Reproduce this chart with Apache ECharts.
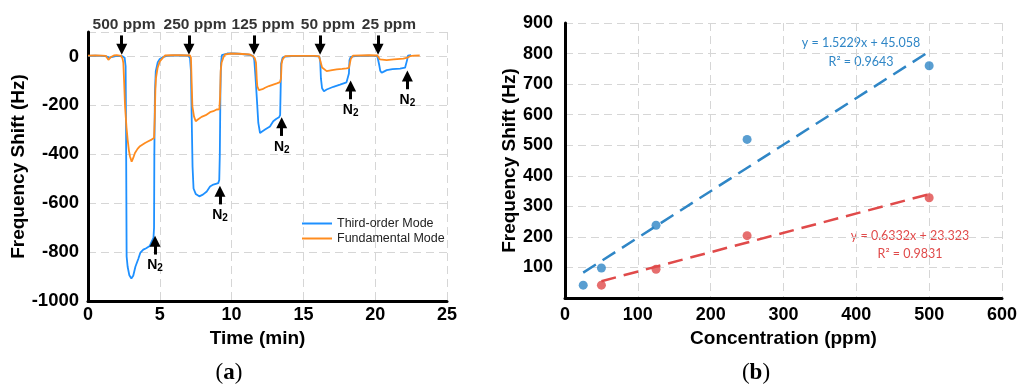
<!DOCTYPE html>
<html>
<head>
<meta charset="utf-8">
<script src="https://cdn.jsdelivr.net/npm/echarts@6/dist/echarts.min.js"></script>
<style>html,body{margin:0;padding:0;background:#fff}#c{width:1023px;height:385px}</style>
</head>
<body>
<div id="c"></div>
<script>
// ---------- Panel (a): time response ----------
const thirdOrder = [
 [0,2],[0.5,3],[1.0,2],[1.3,0],[1.4,-8],[1.5,-5],[1.6,0],[2.0,2],[2.4,1],[2.55,-5],[2.62,-40],[2.65,-300],[2.69,-818],[2.76,-860],[2.88,-895],[3.02,-908],[3.15,-897],[3.3,-860],[3.5,-828],[3.65,-802],[3.85,-790],[4.05,-784],[4.3,-775],[4.45,-755],[4.56,-742],[4.6,-700],[4.62,-400],[4.66,-150],[4.72,-60],[4.85,-25],[5.0,-10],[5.2,-3],[5.5,2],[6.0,4],[6.5,4],[6.95,3],[7.1,-5],[7.17,-60],[7.22,-250],[7.28,-450],[7.35,-540],[7.5,-562],[7.75,-572],[8.0,-565],[8.27,-552],[8.5,-532],[8.73,-524],[9.07,-518],[9.14,-505],[9.18,-400],[9.22,-150],[9.26,-30],[9.32,5],[9.45,10],[9.7,12],[10.2,12],[10.7,10],[11.2,7],[11.5,2],[11.58,-15],[11.66,-80],[11.75,-165],[11.86,-272],[11.98,-313],[12.15,-306],[12.33,-299],[12.67,-286],[12.9,-265],[13.1,-256],[13.3,-249],[13.38,-240],[13.41,-150],[13.45,-30],[13.55,-5],[13.7,-1],[14.2,1],[15.0,1],[15.7,1],[16.1,0],[16.17,-20],[16.22,-90],[16.3,-130],[16.43,-142],[16.62,-135],[17.09,-124],[17.55,-115],[18.0,-106],[18.13,-101],[18.17,-70],[18.21,-15],[18.3,-2],[18.6,1],[19.5,3],[20.15,1],[20.22,-5],[20.28,-35],[20.35,-58],[20.45,-67],[20.6,-62],[20.8,-56],[21.2,-52],[21.73,-50],[22.08,-46],[22.18,-38],[22.22,-15],[22.28,3],[22.4,8],[22.5,5]
];
const fundamental = [
 [0,3],[0.5,4],[1.0,3],[1.25,2],[1.35,-5],[1.42,-14],[1.5,-10],[1.6,-2],[1.8,4],[2.0,5],[2.3,2],[2.4,-8],[2.46,-26],[2.52,-110],[2.58,-204],[2.68,-290],[2.76,-340],[2.85,-385],[2.92,-408],[3.04,-430],[3.15,-415],[3.27,-395],[3.45,-378],[3.62,-367],[3.97,-354],[4.2,-347],[4.43,-340],[4.6,-333],[4.65,-250],[4.69,-140],[4.73,-90],[4.85,-46],[5.0,-20],[5.1,-12],[5.36,4],[5.8,5],[6.5,5],[7.1,4],[7.17,-5],[7.22,-110],[7.27,-204],[7.38,-245],[7.5,-265],[7.65,-258],[7.91,-247],[8.2,-240],[8.5,-228],[8.73,-224],[8.96,-217],[9.15,-216],[9.2,-160],[9.24,-60],[9.3,-26],[9.42,-5],[9.54,8],[9.9,12],[10.5,11],[11.28,8],[11.5,1],[11.62,-8],[11.7,-26],[11.75,-90],[11.79,-122],[11.9,-138],[11.98,-142],[12.15,-134],[12.33,-128],[12.6,-121],[12.9,-115],[13.15,-110],[13.37,-105],[13.44,-90],[13.48,-30],[13.55,-12],[13.72,1],[14.2,2],[15.0,2],[15.8,2],[16.1,0],[16.18,-19],[16.3,-45],[16.39,-53],[16.62,-60],[17.0,-56],[17.32,-53],[17.7,-51],[18.0,-49],[18.17,-47],[18.23,-30],[18.3,-10],[18.36,-5],[18.45,3],[19.0,4],[19.6,5],[20.15,4],[20.22,0],[20.33,-12],[20.8,-15],[21.3,-12],[21.96,-9],[22.24,-5],[22.42,1],[22.7,3],[23.1,4]
];
const seriesNames = ['Third-order Mode', 'Fundamental Mode'];
const xTicksA = [0, 5, 10, 15, 20, 25];
const yTicksA = [-1000, -800, -600, -400, -200, 0];
// gas-on annotations: [time, label, label time]
const ppmArrows = [[2.35,'500 ppm',2.51],[7.03,'250 ppm',7.45],[11.56,'125 ppm',12.19],[16.16,'50 ppm',16.71],[20.2,'25 ppm',20.96]];
// N2 purge annotations: [time, arrow tip value]
const n2Arrows = [[4.67,-736],[9.19,-531],[13.49,-251],[18.29,-101],[22.24,-60]];

// ---------- Panel (b): calibration ----------
const concThird = [25, 50, 125, 250, 500];
const shiftThird = [42, 98, 238, 519, 760];
const concFund = [50, 125, 250, 500];
const shiftFund = [42, 94, 204, 328];
const trendThird = [[25, 83.1], [500, 806.5]];
const trendFund = [[50, 55.0], [500, 339.9]];
const eqThird = ['y = 1.5229x + 45.058', 'R² = 0.9643'];
const eqFund = ['y = 0.6332x + 23.323', 'R² = 0.9831'];

const BLUE = '#1E90FF', ORANGE = '#FF8C1F';
const DBLUE = '#2F86C6', RED = '#E04A4A';
const FONT = '"Liberation Sans", Arial, sans-serif';
const gridLine = {show:true, lineStyle:{color:'#d6d6d6', type:[8,5], width:1}};
const axisLine = {show:true, onZero:false, lineStyle:{color:'#000', width:3}};
const tickLab = {color:'#000', fontFamily:FONT, fontWeight:'bold', fontSize:18, formatter:v => String(v)};

const chart = echarts.init(document.getElementById('c'), null, {renderer:'canvas'});
chart.setOption({
  animation:false,
  backgroundColor:'#fff',
  grid:[
    {left:88, top:32, width:359, height:269},
    {left:565, top:23, width:437, height:275}
  ],
  legend:{
    data:seriesNames, orient:'vertical', left:296, top:212, itemGap:2,
    itemWidth:30, itemHeight:12, itemStyle:{opacity:0},
    textStyle:{fontFamily:FONT, fontSize:12.5, color:'#222'}
  },
  xAxis:[
    {type:'value', gridIndex:0, min:xTicksA[0], max:xTicksA[xTicksA.length-1], interval:5,
     axisLine:axisLine, axisTick:{show:false}, splitLine:gridLine,
     axisLabel:Object.assign({}, tickLab, {margin:5}),
     name:'Time (min)', nameLocation:'middle', nameGap:27,
     nameTextStyle:{fontFamily:FONT, fontWeight:'bold', fontSize:19, color:'#000', padding:[0,20,0,0]}},
    {type:'value', gridIndex:1, min:0, max:600, interval:100,
     axisLine:axisLine, axisTick:{show:false}, splitLine:gridLine,
     axisLabel:Object.assign({}, tickLab, {margin:8}),
     name:'Concentration (ppm)', nameLocation:'middle', nameGap:23,
     nameTextStyle:{fontFamily:FONT, fontWeight:'bold', fontSize:19, color:'#000'}}
  ],
  yAxis:[
    {type:'value', gridIndex:0, min:yTicksA[0], max:100, interval:200,
     axisLine:axisLine, axisTick:{show:false}, splitLine:gridLine,
     axisLabel:Object.assign({}, tickLab, {margin:9, showMaxLabel:false, fontSize:18.5}),
     name:'Frequency Shift (Hz)', nameLocation:'middle', nameGap:56,
     nameTextStyle:{fontFamily:FONT, fontWeight:'bold', fontSize:19, color:'#000'}},
    {type:'value', gridIndex:1, min:0, max:900, interval:100,
     axisLine:axisLine, axisTick:{show:false}, splitLine:gridLine,
     axisLabel:Object.assign({}, tickLab, {margin:12, showMinLabel:false}),
     name:'Frequency Shift (Hz)', nameLocation:'middle', nameGap:45,
     nameTextStyle:{fontFamily:FONT, fontWeight:'bold', fontSize:19, color:'#000'}}
  ],
  series:[
    {name:seriesNames[0], type:'line', xAxisIndex:0, yAxisIndex:0, data:thirdOrder,
     symbol:'none', lineStyle:{color:BLUE, width:1.8}, itemStyle:{color:BLUE}},
    {name:seriesNames[1], type:'line', xAxisIndex:0, yAxisIndex:0, data:fundamental,
     symbol:'none', lineStyle:{color:ORANGE, width:1.8}, itemStyle:{color:ORANGE}},
    // ppm arrows + labels
    {name:'ppm', type:'scatter', xAxisIndex:0, yAxisIndex:0, clip:false, silent:true,
     symbolSize:0,
     data:ppmArrows.map(a => ({value:[a[2], 131], name:a[1]})),
     label:{show:true, position:'inside', formatter:p => p.name, color:'#000',
            fontFamily:FONT, fontWeight:'bold', fontSize:15.5},
     markLine:{silent:true, symbol:['none','triangle'], symbolSize:[11,11], animation:false,
       lineStyle:{color:'#000', width:3, type:'solid'}, label:{show:false},
       data:ppmArrows.map(a => [{coord:[a[0], 86]}, {coord:[a[0], 29]}])}
    },
    // N2 arrows
    {name:'n2', type:'scatter', xAxisIndex:0, yAxisIndex:0, clip:false, silent:true,
     symbolSize:0, data:[],
     markLine:{silent:true, symbol:['none','triangle'], symbolSize:[11,11], animation:false,
       lineStyle:{color:'#000', width:3, type:'solid'},
       label:{show:true, position:'start', distance:3, formatter:'{n|N}{s|2}',
              rich:{n:{fontFamily:FONT, fontWeight:'bold', fontSize:14, color:'#000'},
                    s:{fontFamily:FONT, fontWeight:'bold', fontSize:10, color:'#000', padding:[6,0,0,0]}}},
       data:n2Arrows.map(a => [{coord:[a[0], a[1]-74]}, {coord:[a[0], a[1]-20]}])}
    },
    // Panel b
    {name:'trendThird', type:'line', xAxisIndex:1, yAxisIndex:1, data:trendThird, symbol:'none',
     lineStyle:{color:DBLUE, width:2.5, type:[15,8]}},
    {name:'trendFund', type:'line', xAxisIndex:1, yAxisIndex:1, data:trendFund, symbol:'none',
     lineStyle:{color:RED, width:2.5, type:[15,8]}},
    {name:'ptsThird', type:'scatter', xAxisIndex:1, yAxisIndex:1,
     data:concThird.map((c,i) => [c, shiftThird[i]]), symbolSize:9, itemStyle:{color:DBLUE}},
    {name:'ptsFund', type:'scatter', xAxisIndex:1, yAxisIndex:1,
     data:concFund.map((c,i) => [c, shiftFund[i]]), symbolSize:9, itemStyle:{color:RED}}
  ],
  graphic:[
    {type:'text', x:861, y:43, style:{text:eqThird[0], font:'12.5px Lato, "Open Sans", sans-serif', fill:DBLUE, align:'center', verticalAlign:'middle'}},
    {type:'text', x:861, y:62, style:{text:eqThird[1], font:'12.5px Lato, "Open Sans", sans-serif', fill:DBLUE, align:'center', verticalAlign:'middle'}},
    {type:'text', x:910, y:236, style:{text:eqFund[0], font:'12.5px Lato, "Open Sans", sans-serif', fill:RED, align:'center', verticalAlign:'middle'}},
    {type:'text', x:910, y:254, style:{text:eqFund[1], font:'12.5px Lato, "Open Sans", sans-serif', fill:RED, align:'center', verticalAlign:'middle'}},
    {type:'text', x:229, y:373, style:{text:'{p|(}{b|a}{p|)}', align:'center', verticalAlign:'middle',
      rich:{p:{fontFamily:'"Liberation Serif", serif', fontSize:23, fill:'#000'}, b:{fontFamily:'"Liberation Serif", serif', fontSize:23, fontWeight:'bold', fill:'#000'}}}},
    {type:'text', x:756, y:373, style:{text:'{p|(}{b|b}{p|)}', align:'center', verticalAlign:'middle',
      rich:{p:{fontFamily:'"Liberation Serif", serif', fontSize:23, fill:'#000'}, b:{fontFamily:'"Liberation Serif", serif', fontSize:23, fontWeight:'bold', fill:'#000'}}}}
  ]
});
</script>
</body>
</html>
